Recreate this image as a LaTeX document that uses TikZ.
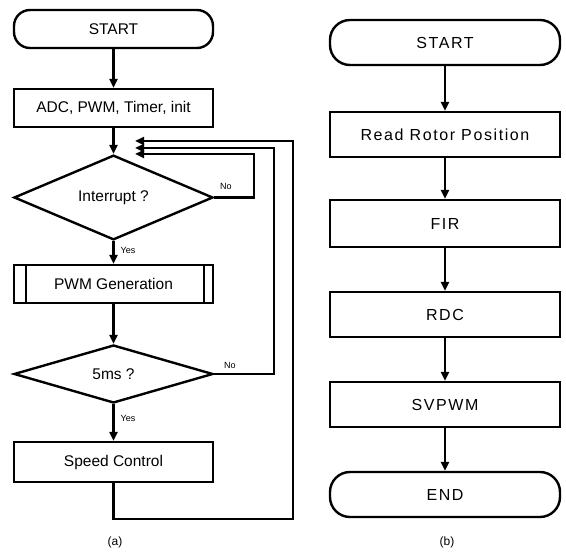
\documentclass[tikz,border=0pt]{standalone}
\usepackage{fontspec}
\setmainfont{Liberation Sans}
\usetikzlibrary{shapes.geometric,arrows.meta}
\begin{document}
\begin{tikzpicture}[x=1pt,y=-1pt,
  base/.style={draw, line width=2.4pt, inner sep=0pt, font=\fontsize{15.5}{18}\selectfont},
  lbox/.style={base, rectangle, minimum width=199pt},
  rbox/.style={base, rectangle, minimum width=230pt, minimum height=45pt, font=\fontsize{16}{19}\selectfont\addfontfeature{LetterSpace=10}},
  term/.style={base, rectangle, rounded corners=16pt},
  dec/.style={base, diamond, minimum width=199pt, minimum height=59pt},
  conn/.style={line width=2.4pt, -{Triangle[length=9pt,width=8pt]}},
  line/.style={line width=2.4pt},
  yn/.style={font=\fontsize{9}{10}\selectfont, inner sep=0pt},
  captxt/.style={font=\fontsize{12}{14}\selectfont, inner sep=0pt}]
\useasboundingbox (0,0) rectangle (566,553);
% ---------- (a) ----------
\node[term, minimum width=199pt, minimum height=38pt] (s1) at (113.5,29) {START};
\node[lbox, minimum height=38pt] (init) at (113.5,108) {ADC, PWM, Timer, init};
\node[dec] (intr) at (113.5,197.5) {Interrupt ?};
\node[lbox, minimum height=38pt] (pwm) at (113.5,284) {PWM Generation};
\draw[line] ([xshift=13pt]pwm.north west) -- ([xshift=13pt]pwm.south west);
\draw[line] ([xshift=-10pt]pwm.north east) -- ([xshift=-10pt]pwm.south east);
\node[dec, minimum height=58pt] (ms) at (113.5,374) {5ms ?};
\node[lbox, minimum height=40pt] (spd) at (113.5,462) {Speed Control};

\coordinate (j1) at (135,141);
\coordinate (j2) at (135,148);
\coordinate (j3) at (135,154);

\draw[conn] (s1) -- (init);
\draw[conn] (init) -- (intr);
\draw[conn] (intr) -- node[yn, right=6pt, pos=0.4] {Yes} (pwm);
\draw[conn] (pwm) -- (ms);
\draw[conn] (ms) -- node[yn, right=6pt, pos=0.4] {Yes} (spd);
\draw[conn] (intr.east) -- (254,197.5) -- (254,154) -- (j3);
\draw[conn] (ms.east) -- (274,374) -- (274,148) -- (j2);
\draw[conn] (spd.south) -- (113.5,519) -- (293,519) -- (293,141) -- (j1);
\node[yn] (no1) at (226,186) {No};
\node[yn] (no2) at (230,365) {No};
\node[captxt] (capa) at (115,542) {(a)};

% ---------- (b) ----------
\node[term, minimum width=230pt, minimum height=45pt, rounded corners=20pt, font=\fontsize{16}{19}\selectfont\addfontfeature{LetterSpace=10}] (s2) at (445,42.5) {START};
\node[rbox] (rrp) at (445,134.5) {Read Rotor Position};
\node[rbox, minimum height=47pt] (fir) at (445,223.5) {FIR};
\node[rbox] (rdc) at (445,314.5) {RDC};
\node[rbox] (svp) at (445,404.5) {SVPWM};
\node[term, minimum width=230pt, minimum height=45pt, rounded corners=20pt, font=\fontsize{16}{19}\selectfont\addfontfeature{LetterSpace=10}] (end) at (445,494.5) {END};
\draw[conn] (s2) -- (rrp);
\draw[conn] (rrp) -- (fir);
\draw[conn] (fir) -- (rdc);
\draw[conn] (rdc) -- (svp);
\draw[conn] (svp) -- (end);
\node[captxt] (capb) at (447,542) {(b)};
\end{tikzpicture}
\end{document}
